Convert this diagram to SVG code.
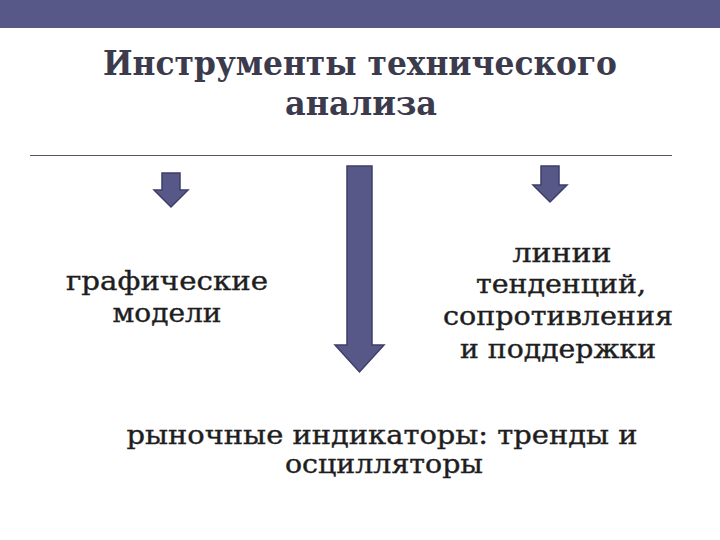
<svg xmlns="http://www.w3.org/2000/svg" width="720" height="540" viewBox="0 0 720 540">
<style>
.t{font-family:"DejaVu Serif","Liberation Serif",serif;font-weight:bold;font-size:34px;fill:#3b3b4d;text-anchor:middle}
.b{font-family:"DejaVu Serif","Liberation Serif",serif;font-size:26px;fill:#1e1e1e;stroke:#1e1e1e;stroke-width:0.4;text-anchor:middle}
.a{fill:#575888;stroke:#3d3e6a;stroke-width:1.5}
</style>
<rect x="0" y="0" width="720" height="540" fill="#fff"/>
<rect x="0" y="0" width="720" height="28" fill="#575888"/>
<g id="title">
<text class="t" x="360" y="75" textLength="514" lengthAdjust="spacingAndGlyphs">Инструменты технического</text>
<text class="t" x="361" y="115" textLength="152" lengthAdjust="spacingAndGlyphs">анализа</text>
</g>
<line x1="30" y1="155.5" x2="672" y2="155.5" stroke="#55556a" stroke-width="1.2"/>
<g id="connectors">
<path class="a" d="M162,173 H180 V190 H188 L171,207 L154,190 H162 Z"/>
<path class="a" d="M541,166 H559 V185 H567 L550,202 L533,185 H541 Z"/>
<path class="a" d="M347,166 H372 V345 H384 L359.5,372 L335,345 H347 Z"/>
</g>
<g id="node-graphic">
<text class="b" x="167" y="290" textLength="202" lengthAdjust="spacingAndGlyphs">графические</text>
<text class="b" x="167" y="322" textLength="109" lengthAdjust="spacingAndGlyphs">модели</text>
</g>
<g id="node-lines">
<text class="b" x="562" y="262" textLength="99" lengthAdjust="spacingAndGlyphs">линии</text>
<text class="b" x="561" y="293" textLength="170" lengthAdjust="spacingAndGlyphs">тенденций,</text>
<text class="b" x="558" y="325" textLength="230" lengthAdjust="spacingAndGlyphs">сопротивления</text>
<text class="b" x="558" y="358" textLength="196" lengthAdjust="spacingAndGlyphs">и поддержки</text>
</g>
<g id="node-indicators">
<text class="b" x="382" y="444" textLength="511" lengthAdjust="spacingAndGlyphs">рыночные индикаторы: тренды и</text>
<text class="b" x="384" y="473" textLength="198" lengthAdjust="spacingAndGlyphs">осцилляторы</text>
</g>
</svg>
